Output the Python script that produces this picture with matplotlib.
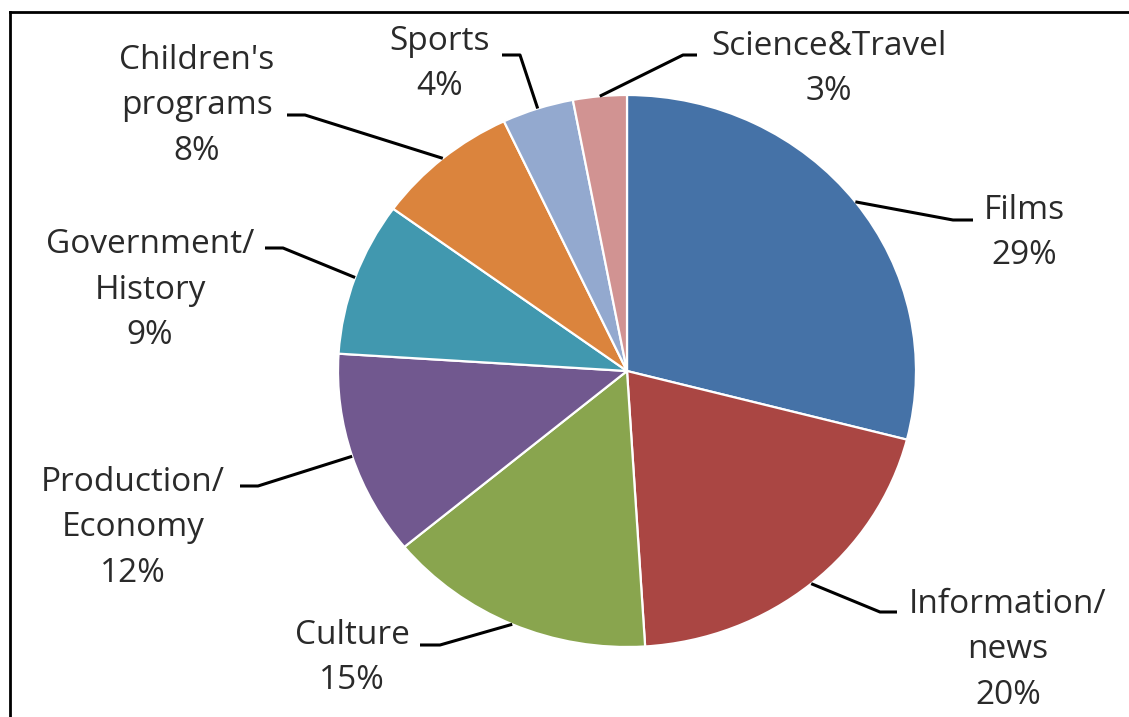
import numpy as np
import matplotlib
matplotlib.use("Agg")
import matplotlib.pyplot as plt
from matplotlib.lines import Line2D

# Programme genres and their share of broadcast time (%)
categories = ["Films", "Information/\nnews", "Culture", "Production/\nEconomy",
              "Government/\nHistory", "Children's\nprograms", "Sports", "Science&Travel"]
shares = [29, 20, 15, 12, 9, 8, 4, 3]
colors = ["#4572A7", "#AA4643", "#89A54E", "#71588F",
          "#4198AF", "#DB843D", "#93A9CF", "#D19392"]

# Label block centres and leader elbows, in figure pixels (top-left origin)
label_pos = [(1024, 233), (1008, 650), (352, 658), (133, 528),
             (150, 290), (197, 106), (440, 64), (829, 69)]
leader_elbow = [((953, 220), (973, 220)), ((880, 612), (897, 612)),
                ((440, 645), (420, 645)), ((258, 486), (240, 486)),
                ((283, 248), (265, 248)), ((305, 115), (287, 115)),
                ((520, 55), (502, 55)), ((683, 55), (697, 55))]

W, H = 1129, 717
fig = plt.figure(figsize=(W / 100, H / 100), dpi=100)
ax = fig.add_axes([0, 0, 1, 1])

wedges, _ = ax.pie(shares, colors=colors, startangle=90, counterclock=False,
                   wedgeprops=dict(edgecolor="white", linewidth=1.6))

# Pie centre (627, 371) px, radii 289 px horizontally and 276 px vertically
cx, cy, rx, ry = 627, 371, 289, 276
ax.set_aspect("auto")
ax.set_xlim(-cx / rx, (W - cx) / rx)
ax.set_ylim((cy - H) / ry, cy / ry)
ax.axis("off")

inv = ax.transData.inverted()


def to_data(px, py):
    return inv.transform((px, H - py))


total = sum(shares)
start = 90.0
for i, (w, label) in enumerate(zip(shares, categories)):
    mid = start - 360.0 * w / total / 2
    start -= 360.0 * w / total
    a = np.deg2rad(mid)
    p0 = (np.cos(a), np.sin(a))
    p1 = to_data(*leader_elbow[i][0])
    p2 = to_data(*leader_elbow[i][1])
    ax.add_line(Line2D([p0[0], p1[0], p2[0]], [p0[1], p1[1], p2[1]],
                       color="black", lw=2.2, solid_capstyle="butt", zorder=5))
    lx, ly = label_pos[i]
    fig.text(lx / W, 1 - ly / H, f"{label}\n{w}%", ha="center", va="center",
             multialignment="center", fontsize=24, family="Open Sans",
             color="#2a2a2a", linespacing=1.5)

# Border lines along the top and left of the chart area
fig.add_artist(Line2D([10 / W, 1], [1 - 12 / H, 1 - 12 / H], color="black",
                      lw=2, transform=fig.transFigure))
fig.add_artist(Line2D([10 / W, 10 / W], [0, 1 - 12 / H], color="black",
                      lw=2, transform=fig.transFigure))

fig.savefig("out.png", dpi=100, facecolor="white")
